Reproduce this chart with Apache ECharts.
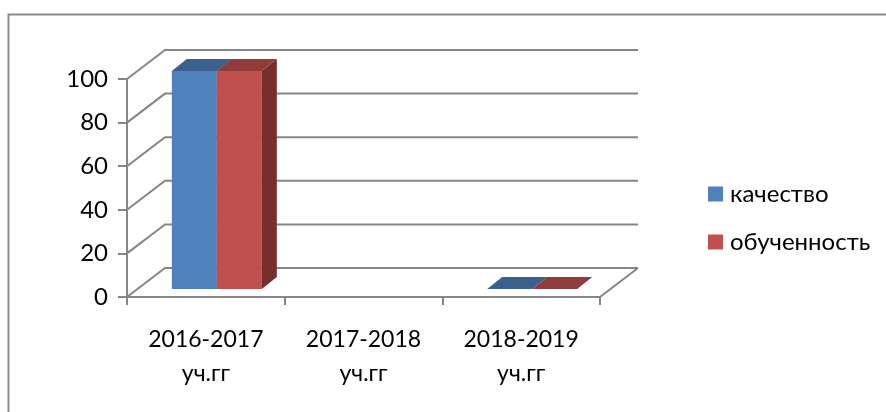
<!DOCTYPE html>
<html>
<head>
<meta charset="utf-8">
<style>
    html, body { margin: 0; padding: 0; background: #fff; }
    #chart { width: 886px; height: 412px; }
</style>
</head>
<body>
<div id="chart"></div>
<script src="https://cdn.jsdelivr.net/npm/echarts@6/dist/echarts.min.js"></script>
<script>
const categories = ['2016-2017\nуч.гг', '2017-2018\nуч.гг', '2018-2019\nуч.гг']
const yTicks = [0, 20, 40, 60, 80, 100]
const kachestvo = [100, null, 0]
const obuchennost = [100, null, 0]

const fontName = 'Lato, "Open Sans", sans-serif'
const axisColor = '#868686'
// глубина псевдо-3D
const wallDx = 38, wallDy = 29
const barDx = 15, barDy = 12, barFloor = 8
const barWidth = 45, barShift = 11

// стены и пол
function renderWall(params, api) {
    const v = api.value(0)
    const box = params.coordSys
    const y = api.coord([0, v])[1]
    const children = [{
        type: 'polyline',
        shape: { points: [[box.x, y], [box.x + wallDx, y - wallDy], [box.x + box.width + wallDx, y - wallDy]] },
        style: { stroke: axisColor, lineWidth: 2, fill: null }
    }]
    if (v === 0) {
        children.push({
            type: 'line',
            shape: { x1: box.x + box.width, y1: y, x2: box.x + box.width + wallDx, y2: y - wallDy },
            style: { stroke: axisColor, lineWidth: 2 }
        })
    }
    return { type: 'group', children }
}

// столбик: передняя грань, верх, правый бок
function barRenderer(order, front, top, side) {
    return function (params, api) {
        const v = api.value(1)
        if (v === null || isNaN(v)) return null
        const base = api.coord([api.value(0), 0])
        const head = api.coord([api.value(0), v])
        const x0 = base[0] + barShift + (order - 1) * barWidth
        const x1 = x0 + barWidth
        const yb = base[1] - barFloor
        const yt = head[1] - barFloor
        return {
            type: 'group',
            children: [
                { type: 'polygon', shape: { points: [[x0, yb], [x1, yb], [x1, yt], [x0, yt]] }, style: { fill: front } },
                { type: 'polygon', shape: { points: [[x0, yt], [x1, yt], [x1 + barDx, yt - barDy], [x0 + barDx, yt - barDy]] }, style: { fill: top } },
                { type: 'polygon', shape: { points: [[x1, yb], [x1 + barDx, yb - barDy], [x1 + barDx, yt - barDy], [x1, yt]] }, style: { fill: side } }
            ]
        }
    }
}

const myChart = echarts.init(document.getElementById('chart'), null, { renderer: 'canvas' })
myChart.setOption({
    animation: false,
    backgroundColor: '#fff',
    textStyle: { fontFamily: fontName },
    // у рамки видны только верх и левый край
    graphic: [{
        type: 'polyline',
        shape: { points: [[8.5, 412], [8.5, 14.5], [886, 14.5]] },
        style: { fill: null, stroke: '#8c8c8c', lineWidth: 2 },
        silent: true
    }],
    grid: { left: 127, right: 286, top: 79, bottom: 115 },
    legend: {
        data: ['качество', 'обученность'],
        orient: 'vertical',
        left: 708,
        top: 182,
        padding: 0,
        itemWidth: 15,
        itemHeight: 15,
        itemGap: 24,
        icon: 'rect',
        textStyle: { fontFamily: fontName, fontSize: 24, color: '#000', padding: [0, 0, 0, 2] }
    },
    xAxis: {
        type: 'category',
        data: categories,
        axisLine: { lineStyle: { color: axisColor, width: 2 } },
        axisTick: { show: true, length: 8, lineStyle: { color: axisColor, width: 2 } },
        axisLabel: { interval: 0, color: '#000', fontSize: 23, lineHeight: 34, margin: 26, fontFamily: fontName }
    },
    yAxis: {
        type: 'value',
        min: 0,
        max: 100,
        interval: 20,
        splitLine: { show: false },
        axisLine: { show: true, lineStyle: { color: axisColor, width: 2 } },
        axisTick: { show: true, length: 9, lineStyle: { color: axisColor, width: 2 } },
        axisLabel: { color: '#000', fontSize: 24, margin: 19, padding: [4, 0, 0, 0], fontFamily: fontName }
    },
    series: [
        {
            name: 'wall',
            type: 'custom',
            renderItem: renderWall,
            data: yTicks.map(v => [v]),
            encode: { y: 0 },
            silent: true,
            z: 1
        },
        {
            name: 'качество',
            type: 'custom',
            renderItem: barRenderer(0, '#4f81bd', '#3b608d', '#3b608d'),
            data: kachestvo.map((v, i) => [i, v]),
            encode: { x: 0, y: 1 },
            itemStyle: { color: '#4f81bd' },
            z: 2
        },
        {
            name: 'обученность',
            type: 'custom',
            renderItem: barRenderer(1, '#c0504d', '#8f3c3a', '#772f2d'),
            data: obuchennost.map((v, i) => [i, v]),
            encode: { x: 0, y: 1 },
            itemStyle: { color: '#c0504d' },
            z: 3
        }
    ]
})
</script>
</body>
</html>
